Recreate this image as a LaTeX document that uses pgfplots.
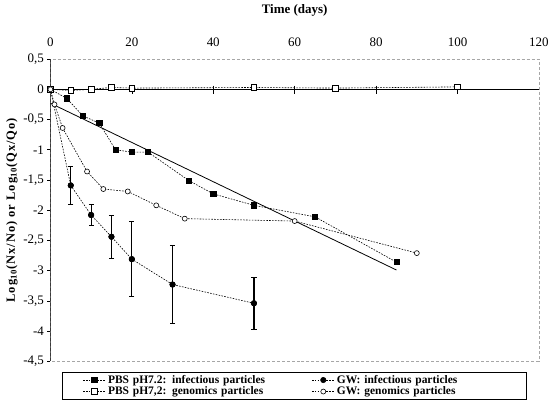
\documentclass[border=0pt]{standalone}
\usepackage{fontspec}
\setmainfont{Liberation Serif}
\newfontfamily\spacedfont[LetterSpace=8]{Liberation Serif}
\usepackage{pgfplots}
\pgfplotsset{compat=1.18}

\pgfplotstableread{
x y
0 0
4 -0.15
8 -0.44
12 -0.56
16 -1.00
20 -1.04
24 -1.04
34 -1.51
40 -1.73
50 -1.92
65 -2.11
85 -2.86
}\pbsinf

\pgfplotstableread{
x y
0 0
5 -0.02
10 0.00
15 0.03
20 0.02
50 0.03
70 0.02
100 0.04
}\pbsgen

\pgfplotstableread{
x y e
0 0 0
5 -1.59 0.31
10 -2.08 0.17
15 -2.44 0.35
20 -2.81 0.62
30 -3.23 0.64
50 -3.54 0.43
}\gwinf

\pgfplotstableread{
x y
0 0
1 -0.25
3 -0.64
9 -1.36
13 -1.65
19 -1.69
26 -1.92
33 -2.14
60 -2.18
90 -2.71
}\gwgen

\begin{document}
\begin{tikzpicture}
\begin{axis}[
  scale only axis, width=489.5pt, height=302.8pt,
  xmin=0, xmax=120, ymin=-4.5, ymax=0.5,
  axis line style={gray!70, densely dashed, line width=0.4pt},
  xtick={0,20,...,120}, xticklabel pos=top, xtick style={draw=none},
  ytick={-4.5,-4,...,0.5}, ytick pos=left,
  ytick style={black, solid, line width=0.5pt},
  tick align=outside, major tick length=3pt,
  /pgf/number format/.cd, use comma, fixed, assume math mode=true,
  /pgfplots/.cd,
  ticklabel style={font=\fontsize{13}{15}\selectfont},
  xticklabel style={yshift=6pt},
  xlabel={\textbf{Time (days)}},
  xlabel style={at={(axis description cs:0.5,1.162)}, anchor=center, font=\fontsize{13}{15}\selectfont},
  ylabel={\spacedfont\bfseries Log\textsubscript{10}(Nx/No) or Log\textsubscript{10}(Qx/Qo)},
  ylabel style={at={(axis description cs:-0.0787,0.5)}, anchor=center, font=\fontsize{12.5}{14}\selectfont},
  legend columns=2,
  legend cell align=left,
  legend style={at={(0.5,-0.0353)}, anchor=north, draw=black, line width=0.6pt,
    inner xsep=20pt,
    font=\fontsize{11.5}{12}\selectfont,
    nodes={text width=168pt, align=left, inner ysep=1pt},
    /tikz/every even column/.append style={column sep=34pt}},
  legend image code/.code={%
    \draw[mark repeat=2, mark phase=2] plot coordinates {(0cm,0cm) (0.4cm,0cm) (0.8cm,0cm)};},
  every axis plot/.append style={black, line width=0.6pt, dash pattern=on 1.6pt off 1.3pt},
]
% x axis line at y=0 and left spine
\draw[black, solid, line width=0.7pt] (axis cs:0,0) -- (axis cs:120,0);
\draw[black, solid, line width=0.7pt] (axis cs:0,-4.5) -- (axis cs:0,0.5);
\pgfplotsinvokeforeach{20,40,60,80,100,120}{
  \draw[black, solid, line width=0.6pt] (axis cs:#1,0.06) -- (axis cs:#1,-0.08);
}

\addplot[mark=square*, mark size=2.6pt, mark options={solid, fill=black}] table[x=x,y=y] {\pbsinf};
\addlegendentry{\textbf{PBS pH7.2: infectious particles}}

\addplot[mark=*, mark size=2.7pt, mark options={solid, fill=black}] table[x=x,y=y] {\gwinf};
\addlegendentry{\textbf{GW: infectious particles}}

\addplot[mark=square*, mark size=2.8pt, mark options={solid, fill=white}] table[x=x,y=y] {\pbsgen};
\addlegendentry{\textbf{PBS pH7,2: genomics particles}}

\addplot[mark=*, mark size=2.5pt, mark options={solid, fill=white}] table[x=x,y=y] {\gwgen};
\addlegendentry{\textbf{GW: genomics particles}}

% error bars for GW infectious
\addplot[forget plot, only marks, mark=*, mark size=2.7pt, mark options={solid, fill=black},
  error bars/.cd, y dir=both, y explicit,
  error bar style={draw=black, solid, line width=1.1pt},
  error mark options={rotate=90, mark size=2.6pt, line width=0.8pt, solid}]
  table[x=x, y=y, y error=e] {
x y e
5 -1.59 0.31
10 -2.08 0.17
15 -2.44 0.35
20 -2.81 0.62
30 -3.23 0.64
50 -3.54 0.43
};

% regression line
\addplot[forget plot, solid, line width=0.8pt] coordinates {(0,-0.23) (85,-2.99)};
\end{axis}
\path ([shift={(-50.5pt,-41pt)}]current axis.south west) rectangle ([shift={(12pt,59.2pt)}]current axis.north east);
\end{tikzpicture}
\end{document}
